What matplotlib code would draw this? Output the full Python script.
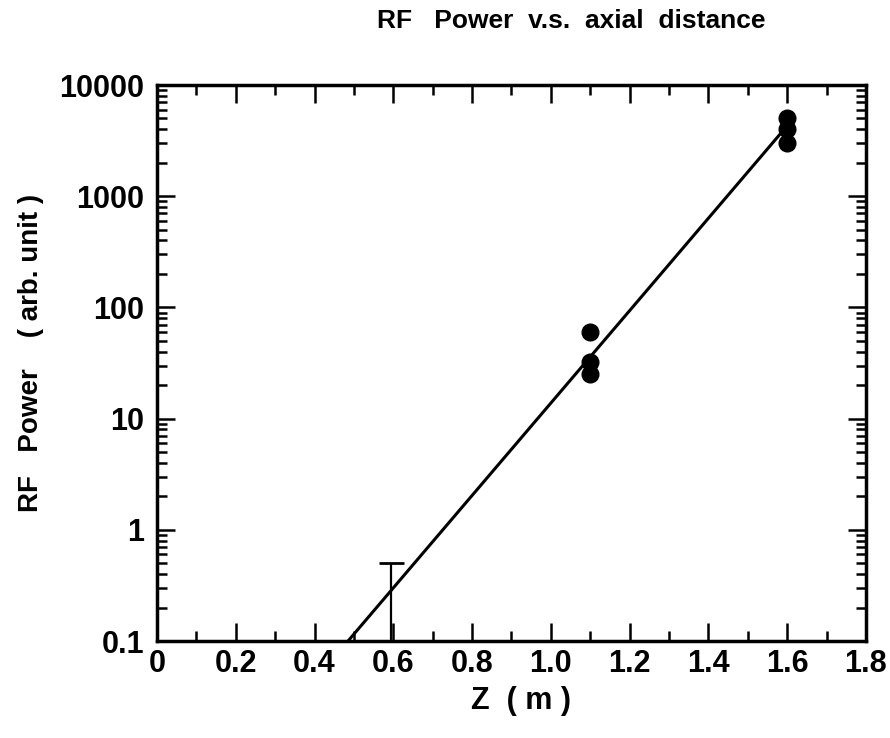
import matplotlib
matplotlib.use("Agg")
import matplotlib.pyplot as plt
from matplotlib.ticker import FixedLocator, LogLocator, NullFormatter, MultipleLocator

# measured points (z in m, power in arb. units)
z_pts = [1.1, 1.1, 1.1, 1.6, 1.6, 1.6]
p_pts = [60, 32, 25, 5000, 4000, 3000]

# fitted exponential growth line
fit_z = [0.485, 1.6]
fit_p = [0.1, 4300]

# error bar near the start
err_z = [0.595]
err_p = [0.27]
err_lo = [0.265]
err_hi = [0.23]

y_ticks = [0.1, 1, 10, 100, 1000, 10000]
y_labels = ["0.1", "1", "10", "100", "1000", "10000"]
x_ticks = [0, 0.2, 0.4, 0.6, 0.8, 1.0, 1.2, 1.4, 1.6, 1.8]
x_labels = ["0", "0.2", "0.4", "0.6", "0.8", "1.0", "1.2", "1.4", "1.6", "1.8"]

plt.rcParams["font.family"] = ["Liberation Sans", "DejaVu Sans"]
plt.rcParams["font.weight"] = "bold"

fig = plt.figure(figsize=(8.9, 7.38), dpi=100)
ax = fig.add_axes([0.1764, 0.1314, 0.7966, 0.7534])

ax.plot(fit_z, fit_p, color="black", lw=2.2, solid_capstyle="butt")
ax.errorbar(err_z, err_p, yerr=[err_lo, err_hi], fmt="none", ecolor="black",
            elinewidth=1.6, capsize=9, capthick=2)
ax.plot(z_pts, p_pts, "o", color="black", ms=12, zorder=3)

ax.set_yscale("log")
ax.set_xlim(0, 1.8)
ax.set_ylim(0.1, 10000)

ax.yaxis.set_major_locator(FixedLocator(y_ticks))
ax.set_yticklabels(y_labels)
ax.yaxis.set_minor_locator(LogLocator(base=10, subs=range(2, 10), numticks=20))
ax.yaxis.set_minor_formatter(NullFormatter())
ax.set_xticks(x_ticks)
ax.set_xticklabels(x_labels)
ax.xaxis.set_minor_locator(MultipleLocator(0.1))

for s in ax.spines.values():
    s.set_linewidth(2.5)
ax.tick_params(which="both", direction="in", top=True, right=True,
               labelsize=22, width=1.8)
ax.tick_params(axis="y", pad=9)
ax.tick_params(axis="x", pad=6)
ax.tick_params(which="major", length=13)
ax.tick_params(which="minor", length=7)
for lab in ax.get_xticklabels() + ax.get_yticklabels():
    lab.set_fontweight("bold")

fig.text(0.642, 0.972, "RF   Power  v.s.  axial  distance", ha="center", va="center",
         fontsize=19, fontweight="bold")
fig.text(0.035, 0.522, "RF   Power    ( arb. unit )", rotation=90, ha="center", va="center",
         fontsize=20, fontweight="bold")
fig.text(0.585, 0.05, "Z  ( m )", ha="center", va="center", fontsize=22, fontweight="bold")

fig.savefig("out.png", dpi=100)
